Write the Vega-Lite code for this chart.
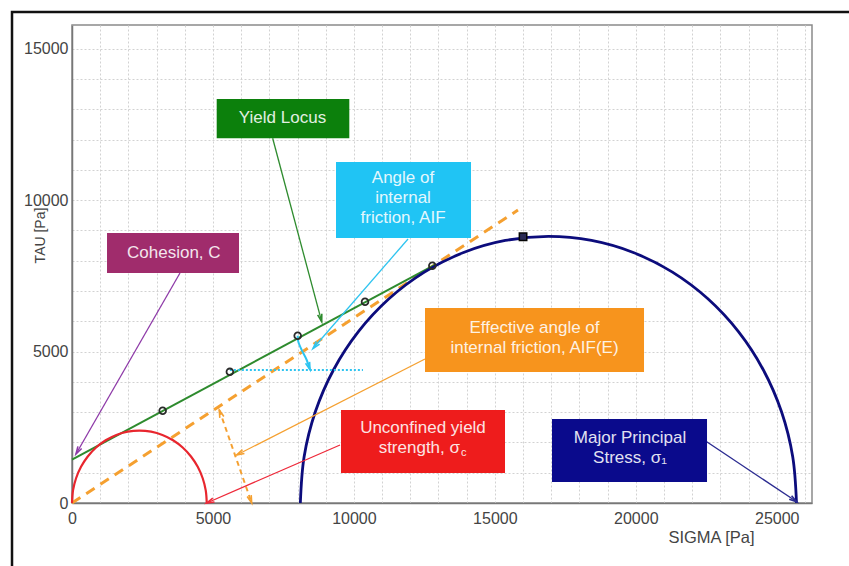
{
  "$schema": "https://vega.github.io/schema/vega-lite/v6.json",
  "width": 740,
  "height": 478,
  "autosize": {"type": "none"},
  "padding": {"left": 72, "top": 25, "right": 37, "bottom": 63},
  "background": "white",
  "config": {
    "font": "Liberation Sans",
    "view": {"stroke": "#8a8a8a", "strokeWidth": 1.5}
  },
  "datasets": {
    "bigCircle": [
      {"sigma": 8100, "tau": 0}, {"sigma": 8234, "tau": 1528}, {"sigma": 8631, "tau": 3010},
      {"sigma": 9279, "tau": 4400}, {"sigma": 10159, "tau": 5657}, {"sigma": 11243, "tau": 6741},
      {"sigma": 12500, "tau": 7621}, {"sigma": 13890, "tau": 8269}, {"sigma": 15372, "tau": 8666},
      {"sigma": 16900, "tau": 8800}, {"sigma": 18428, "tau": 8666}, {"sigma": 19910, "tau": 8269},
      {"sigma": 21300, "tau": 7621}, {"sigma": 22557, "tau": 6741}, {"sigma": 23641, "tau": 5657},
      {"sigma": 24521, "tau": 4400}, {"sigma": 25169, "tau": 3010}, {"sigma": 25566, "tau": 1528},
      {"sigma": 25700, "tau": 0}
    ],
    "smallCircle": [
      {"sigma": 0, "tau": 0}, {"sigma": 36, "tau": 415}, {"sigma": 144, "tau": 817},
      {"sigma": 320, "tau": 1195}, {"sigma": 559, "tau": 1536}, {"sigma": 854, "tau": 1831},
      {"sigma": 1195, "tau": 2070}, {"sigma": 1573, "tau": 2246}, {"sigma": 1975, "tau": 2354},
      {"sigma": 2390, "tau": 2390}, {"sigma": 2805, "tau": 2354}, {"sigma": 3207, "tau": 2246},
      {"sigma": 3585, "tau": 2070}, {"sigma": 3926, "tau": 1831}, {"sigma": 4221, "tau": 1536},
      {"sigma": 4460, "tau": 1195}, {"sigma": 4636, "tau": 817}, {"sigma": 4744, "tau": 415},
      {"sigma": 4780, "tau": 0}
    ],
    "locus": [{"sigma": 0, "tau": 1430}, {"sigma": 12900, "tau": 7880}],
    "locusPoints": [
      {"sigma": 3216, "tau": 3047}, {"sigma": 5600, "tau": 4330}, {"sigma": 8006, "tau": 5520},
      {"sigma": 10394, "tau": 6646}, {"sigma": 12782, "tau": 7835}
    ],
    "effective": [{"sigma": 0, "tau": 0}, {"sigma": 15820, "tau": 9670}],
    "effAngle": [{"sigma": 5226, "tau": 3070}, {"sigma": 6374, "tau": 0}],
    "aifLevel": [{"sigma": 5600, "tau": 4390}, {"sigma": 10320, "tau": 4390}],
    "aifArc": [
      {"sigma": 8006, "tau": 5520}, {"sigma": 8028, "tau": 5325}, {"sigma": 8148, "tau": 5051},
      {"sigma": 8326, "tau": 4721}, {"sigma": 8443, "tau": 4400}
    ],
    "preshear": [{"sigma": 16000, "tau": 8790}],
    "arrows": [
      {"item": "Yield Locus", "kind": "leader", "sigma": 7118, "tau": 12040, "sigma2": 8857, "tau2": 5985},
      {"item": "AIF", "kind": "leader", "sigma": 11920, "tau": 8716, "sigma2": 8550, "tau2": 5100},
      {"item": "Cohesion", "kind": "leader", "sigma": 3831, "tau": 7593, "sigma2": 142, "tau2": 1618},
      {"item": "AIF(E)", "kind": "leader", "sigma": 12522, "tau": 4754, "sigma2": 5842, "tau2": 1585},
      {"item": "Unconfined", "kind": "leader", "sigma": 9507, "tau": 1915, "sigma2": 4778, "tau2": 0},
      {"item": "Major", "kind": "leader", "sigma": 22515, "tau": 2024, "sigma2": 25708, "tau2": 40},
      {"item": "AIF arc", "kind": "head", "sigma": 8326, "tau": 4721, "sigma2": 8443, "tau2": 4400},
      {"item": "AIF(E) angle", "kind": "head", "sigma": 6374, "tau": 0, "sigma2": 5226, "tau2": 3070},
      {"item": "AIF(E) angle", "kind": "head", "sigma": 5226, "tau": 3070, "sigma2": 6374, "tau2": 0}
    ],
    "boxes": [
      {"item": "Yield Locus", "sigma": 5133, "sigma2": 9837, "tau": 12040, "tau2": 13338},
      {"item": "AIF", "sigma": 9365, "sigma2": 14154, "tau": 8749, "tau2": 11258},
      {"item": "Cohesion", "sigma": 1242, "sigma2": 5924, "tau": 7593, "tau2": 8914},
      {"item": "AIF(E)", "sigma": 12522, "sigma2": 20291, "tau": 4325, "tau2": 6438},
      {"item": "Unconfined", "sigma": 9542, "sigma2": 15360, "tau": 990, "tau2": 3070},
      {"item": "Major", "sigma": 17027, "sigma2": 22526, "tau": 693, "tau2": 2773}
    ],
    "notes": [
      {"sigma": 7467, "tau": 12700, "text": "Yield Locus"},
      {"sigma": 11742, "tau": 10730, "text": "Angle of\ninternal\nfriction, AIF"},
      {"sigma": 3611, "tau": 8244, "text": "Cohesion, C"},
      {"sigma": 16406, "tau": 5788, "text": "Effective angle of\ninternal friction, AIF(E)"},
      {"sigma": 12450, "tau": 2466, "text": "Unconfined yield"},
      {"sigma": 19794, "tau": 2136, "text": "Major Principal\nStress, σ₁"}
    ],
    "strengthNote": [{"sigma": 13764, "tau": 1806, "text": "strength, σ", "sub": "c"}],
    "frame": [
      {"sigma": -2128, "tau": -2300, "order": 1},
      {"sigma": -2128, "tau": 16210, "order": 2},
      {"sigma": 28500, "tau": 16210, "order": 3}
    ]
  },
  "encoding": {
    "x": {
      "field": "sigma", "type": "quantitative",
      "scale": {"domain": [0, 26250], "nice": false},
      "axis": {
        "title": "SIGMA [Pa]",
        "values": [0, 1000, 2000, 3000, 4000, 5000, 6000, 7000, 8000, 9000, 10000, 11000, 12000, 13000, 14000, 15000, 16000, 17000, 18000, 19000, 20000, 21000, 22000, 23000, 24000, 25000, 26000],
        "format": "d",
        "labelExpr": "datum.value % 5000 === 0 ? datum.label : ''",
        "labelOverlap": false,
        "labelFlush": false,
        "labelFontSize": 16,
        "labelColor": "#444444",
        "labelPadding": 7,
        "ticks": false,
        "domainColor": "#777777",
        "domainWidth": 1.5,
        "grid": true,
        "gridColor": "#d2d2d2",
        "gridDash": [2, 2],
        "gridWidth": 1,
        "titleFontSize": 16.5,
        "titleFontWeight": "normal",
        "titleColor": "#444444",
        "titleX": 639,
        "titleY": 34,
        "titleBaseline": "middle",
        "titleAlign": "center"
      }
    },
    "y": {
      "field": "tau", "type": "quantitative",
      "scale": {"domain": [0, 15780], "nice": false},
      "axis": {
        "title": "TAU [Pa]",
        "values": [0, 1000, 2000, 3000, 4000, 5000, 6000, 7000, 8000, 9000, 10000, 11000, 12000, 13000, 14000, 15000],
        "format": "d",
        "labelExpr": "datum.value % 5000 === 0 ? datum.label : ''",
        "labelOverlap": false,
        "labelFlush": false,
        "labelFontSize": 16,
        "labelColor": "#444444",
        "labelPadding": 4,
        "ticks": false,
        "domainColor": "#777777",
        "domainWidth": 1.5,
        "grid": true,
        "gridColor": "#d2d2d2",
        "gridDash": [2, 2],
        "gridWidth": 1,
        "titleFontSize": 14,
        "titleFontWeight": "normal",
        "titleColor": "#444444",
        "titleX": -32,
        "titleY": 210,
        "titleAngle": -90,
        "titleBaseline": "middle",
        "titleAlign": "center"
      }
    }
  },
  "resolve": {"scale": {"color": "independent"}},
  "layer": [
    {
      "data": {"name": "effective"},
      "mark": {"type": "line", "color": "#f5a030", "strokeWidth": 3, "strokeDash": [10, 7]}
    },
    {
      "data": {"name": "locus"},
      "mark": {"type": "line", "color": "#2e8b2e", "strokeWidth": 2}
    },
    {
      "data": {"name": "smallCircle"},
      "mark": {"type": "line", "color": "#e8262e", "strokeWidth": 2.2, "interpolate": "cardinal"}
    },
    {
      "data": {"name": "bigCircle"},
      "mark": {"type": "line", "color": "#0c0c7c", "strokeWidth": 2.8, "interpolate": "cardinal"}
    },
    {
      "data": {"name": "effAngle"},
      "mark": {"type": "line", "color": "#f5a030", "strokeWidth": 2, "strokeDash": [5, 4]}
    },
    {
      "data": {"name": "aifLevel"},
      "mark": {"type": "line", "color": "#2ec4f0", "strokeWidth": 2, "strokeDash": [2, 2]}
    },
    {
      "data": {"name": "aifArc"},
      "mark": {"type": "line", "color": "#2ec4f0", "strokeWidth": 2, "interpolate": "cardinal"}
    },
    {
      "data": {"name": "arrows"},
      "transform": [{"filter": "datum.kind === 'leader'"}],
      "mark": {"type": "rule", "strokeWidth": 1.3},
      "encoding": {
        "x2": {"field": "sigma2"},
        "y2": {"field": "tau2"},
        "color": {
          "field": "item", "type": "nominal", "legend": null,
          "scale": {
            "domain": ["Yield Locus", "AIF", "Cohesion", "AIF(E)", "Unconfined", "Major", "AIF arc", "AIF(E) angle"],
            "range": ["#2e8b2e", "#2ec4f0", "#8e3aa8", "#f5a030", "#ee2a3a", "#2a2a90", "#2ec4f0", "#f5a030"]
          }
        }
      }
    },
    {
      "data": {"name": "arrows"},
      "transform": [
        {"calculate": "atan2((datum.sigma2 - datum.sigma) * 740 / 26250, (datum.tau2 - datum.tau) * 478 / 15780) * 180 / PI", "as": "heading"}
      ],
      "mark": {"type": "point", "shape": "M-0.45,1.6L0,0L0.45,1.6", "filled": false, "strokeWidth": 1.6, "size": 90, "opacity": 1},
      "encoding": {
        "x": {"field": "sigma2", "type": "quantitative"},
        "y": {"field": "tau2", "type": "quantitative"},
        "angle": {"field": "heading", "type": "quantitative", "scale": null},
        "color": {
          "field": "item", "type": "nominal", "legend": null,
          "scale": {
            "domain": ["Yield Locus", "AIF", "Cohesion", "AIF(E)", "Unconfined", "Major", "AIF arc", "AIF(E) angle"],
            "range": ["#2e8b2e", "#2ec4f0", "#8e3aa8", "#f5a030", "#ee2a3a", "#2a2a90", "#2ec4f0", "#f5a030"]
          }
        }
      }
    },
    {
      "data": {"name": "locusPoints"},
      "mark": {"type": "point", "filled": false, "color": "#2a2a2a", "size": 45, "strokeWidth": 1.8, "opacity": 1}
    },
    {
      "data": {"name": "preshear"},
      "mark": {"type": "point", "shape": "square", "filled": true, "fill": "#2a2a55", "stroke": "#050505", "strokeWidth": 1.5, "size": 55, "opacity": 1}
    },
    {
      "data": {"name": "boxes"},
      "mark": {"type": "rect"},
      "encoding": {
        "x2": {"field": "sigma2"},
        "y2": {"field": "tau2"},
        "color": {
          "field": "item", "type": "nominal", "legend": null,
          "scale": {
            "domain": ["Yield Locus", "AIF", "Cohesion", "AIF(E)", "Unconfined", "Major"],
            "range": ["#0c800c", "#20c4f4", "#a02c6c", "#f7941d", "#ee1c1c", "#0a0a8c"]
          }
        }
      }
    },
    {
      "data": {"name": "notes"},
      "mark": {"type": "text", "fontSize": 17, "lineHeight": 20, "lineBreak": "\n", "align": "center", "baseline": "middle", "color": "#ffffff", "opacity": 0.88},
      "encoding": {"text": {"field": "text"}}
    },
    {
      "data": {"name": "strengthNote"},
      "mark": {"type": "text", "fontSize": 17, "align": "right", "baseline": "middle", "color": "#ffffff", "opacity": 0.88},
      "encoding": {"text": {"field": "text"}}
    },
    {
      "data": {"name": "strengthNote"},
      "mark": {"type": "text", "fontSize": 11, "align": "left", "baseline": "middle", "dx": 1, "dy": 5, "color": "#ffffff", "opacity": 0.88},
      "encoding": {"text": {"field": "sub"}}
    },
    {
      "data": {"name": "frame"},
      "mark": {"type": "line", "color": "#111111", "strokeWidth": 2.5, "clip": false},
      "encoding": {
        "order": {"field": "order", "type": "quantitative"}
      }
    }
  ]
}
